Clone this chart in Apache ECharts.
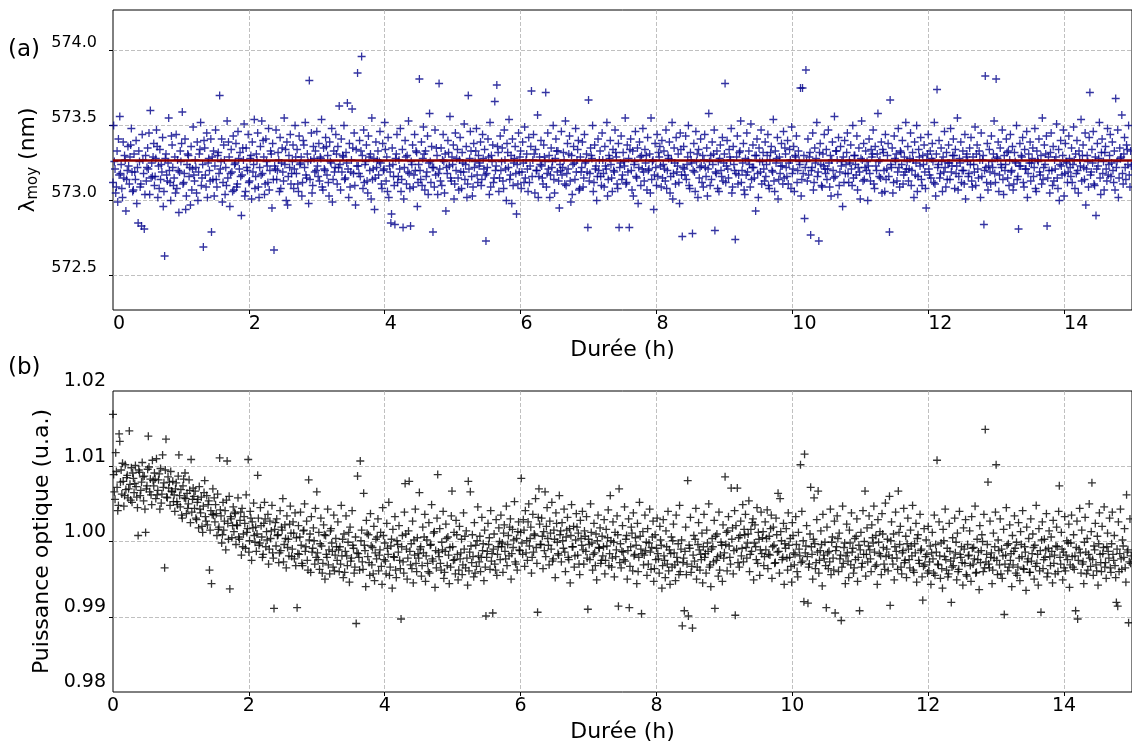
<!DOCTYPE html>
<html>
<head>
<meta charset="utf-8">
<script src="https://cdn.jsdelivr.net/npm/echarts@6/dist/echarts.min.js"></script>
<style>html,body{margin:0;padding:0;background:#fff}#chart{width:1132px;height:745px}</style>
</head>
<body>
<div id="chart"></div>
<script>
// ---- data ----
const sampleStepHours = 0.01; // acquisition interval (h)
const meanWavelength = 573.27;
const durationTicks = [0, 2, 4, 6, 8, 10, 12, 14];
const wavelengthTicks = [572.5, 573.0, 573.5, 574.0];
const powerTicks = [0.98, 0.99, 1.00, 1.01, 1.02];
const durationRange = [0, 15];
const wavelengthRange = [572.27, 574.27];
const powerRange = [0.98, 1.02];

const wavelengthValues = [
573.12,573.50,573.26,573.21,573.05,573.09,573.33,572.99,573.41,573.17,573.56,573.18,573.24,573.08,573.02,573.39,573.15,573.30,573.27,572.93,573.14,573.20,573.36,573.23,573.11,573.29,573.37,573.48,573.19,573.06,
573.07,573.31,573.19,573.14,573.40,572.98,573.22,572.85,573.33,573.26,573.09,573.11,572.83,573.44,573.27,573.18,572.81,573.04,573.30,573.13,573.22,573.35,573.21,573.45,573.04,573.60,573.15,573.25,573.16,573.29,
573.38,573.10,573.16,573.28,573.47,573.36,573.02,573.23,573.08,573.34,573.14,573.24,573.19,573.42,572.96,573.06,572.63,573.28,573.31,573.17,573.13,573.25,573.55,573.20,573.12,573.00,573.43,573.37,573.22,573.10,
573.15,573.29,573.05,573.44,573.08,573.27,573.20,572.92,573.19,573.33,573.26,573.38,573.59,573.11,573.12,573.18,573.41,572.94,573.03,573.24,573.31,573.30,573.16,573.22,572.97,573.36,573.07,573.21,573.49,573.17,
573.13,573.27,573.22,573.05,573.39,573.00,573.19,573.31,573.34,573.52,573.10,573.15,573.24,572.69,573.40,573.35,573.17,573.09,573.45,573.02,573.25,573.28,573.20,573.13,573.41,572.79,573.29,573.14,573.33,573.03,
573.23,573.47,573.14,573.09,573.30,573.32,573.18,573.70,573.21,573.26,573.41,572.99,573.12,573.37,573.27,573.04,573.22,573.10,573.53,573.15,573.39,573.29,572.96,573.18,573.34,573.19,573.06,573.43,573.07,573.24,
573.25,573.38,573.09,573.11,573.46,573.28,573.21,573.32,573.16,572.90,573.17,573.35,573.27,573.51,573.03,573.06,573.35,573.22,573.20,573.44,573.12,573.13,573.28,573.30,573.01,573.39,573.19,573.24,573.54,573.08,
573.16,573.31,573.27,573.45,573.09,573.02,573.22,573.36,573.17,573.53,573.18,573.40,573.29,573.04,573.11,573.41,573.26,573.23,573.12,573.48,573.07,573.20,573.33,573.31,572.95,573.38,573.14,572.67,573.23,573.21,
573.47,573.14,573.20,573.32,573.27,573.06,573.42,573.08,573.25,573.35,573.19,573.13,573.55,573.24,573.34,573.00,573.39,572.97,573.16,573.30,573.22,573.44,573.11,573.18,573.26,573.37,573.08,573.21,573.50,573.29,
573.18,573.34,573.11,573.06,573.43,573.24,573.25,573.29,573.03,573.12,573.40,573.37,573.22,573.52,573.17,573.15,573.31,573.26,572.98,573.80,573.14,573.27,573.45,573.05,573.10,573.36,573.28,573.19,573.33,573.20,
573.46,573.23,573.16,573.38,573.13,573.29,573.28,573.54,573.09,573.07,573.35,573.21,573.20,573.42,573.36,573.17,573.30,573.12,573.03,573.39,573.26,573.25,573.48,572.99,573.14,573.33,573.19,573.22,573.44,573.31,
573.11,573.36,573.22,573.63,573.24,573.07,573.41,573.19,573.30,573.29,573.50,573.14,573.15,573.32,573.25,573.65,573.21,573.02,573.38,573.09,573.19,573.27,573.61,573.35,573.18,573.45,573.10,572.97,573.34,573.23,
573.85,573.23,573.18,573.40,573.16,573.33,573.96,573.30,573.08,573.47,573.12,573.24,573.26,573.37,573.13,573.05,573.43,573.29,573.20,573.31,573.01,573.55,573.14,573.21,573.28,572.94,573.15,573.39,573.22,573.27,
573.33,573.17,573.26,573.46,573.25,573.11,573.08,573.38,573.20,573.21,573.52,573.34,573.13,573.29,573.06,573.42,573.02,573.23,573.19,572.85,572.91,573.35,573.24,573.16,573.10,572.84,573.28,573.31,573.44,573.12,
573.16,573.27,573.21,573.48,573.06,573.14,573.34,572.82,573.01,573.22,573.40,573.29,573.11,573.30,573.19,573.53,573.18,573.08,572.83,573.26,573.24,573.37,573.09,573.17,573.44,573.20,573.33,573.32,572.96,573.12,
573.24,573.81,573.20,573.14,573.39,573.10,573.28,573.49,573.31,573.07,573.33,573.16,573.19,573.43,573.04,573.25,573.58,573.26,573.12,573.36,573.22,572.79,573.22,573.09,573.47,573.17,573.35,573.30,573.04,573.18,
573.78,573.21,573.13,573.35,573.10,573.27,573.44,573.26,573.05,573.31,572.93,573.22,573.18,573.40,573.32,573.23,573.56,573.15,573.13,573.29,573.24,573.37,573.01,573.11,573.45,573.20,573.28,573.34,573.15,573.07,
573.27,573.42,573.19,573.08,573.32,573.25,573.19,573.51,573.14,573.24,573.36,573.02,573.11,573.70,573.21,573.28,573.46,573.33,573.16,573.03,573.09,573.38,573.22,573.26,573.33,573.48,573.17,573.12,573.30,573.23,
573.25,573.39,573.10,573.14,573.44,573.28,573.21,573.34,573.17,572.73,573.18,573.22,573.41,573.29,573.04,573.52,573.09,573.30,573.26,573.37,573.12,573.15,573.66,573.20,573.23,573.77,573.36,573.32,573.06,573.15,
573.43,573.20,573.26,573.35,573.13,573.08,573.47,573.27,573.21,573.00,573.38,573.32,573.22,573.54,573.14,573.17,573.30,572.98,573.41,573.10,573.25,573.28,573.36,573.18,572.91,573.24,573.11,573.45,573.19,573.29,
573.33,573.08,573.19,573.39,573.25,573.12,573.49,573.15,573.27,573.31,573.21,573.06,573.42,573.12,573.23,573.36,573.73,573.16,573.27,573.44,573.31,573.05,573.34,573.20,573.20,573.57,573.02,573.16,573.29,573.24,
573.40,573.23,573.15,573.11,573.37,573.29,573.26,573.72,573.09,573.18,573.45,573.21,573.30,573.02,573.17,573.35,573.22,573.26,573.50,573.14,573.05,573.28,573.41,573.33,573.19,573.33,573.13,572.95,573.24,573.20,
573.46,573.17,573.22,573.32,573.27,573.11,573.53,573.10,573.18,573.38,573.21,573.31,573.43,573.13,572.99,573.30,573.04,573.24,573.36,573.25,573.14,573.48,573.19,573.27,573.34,573.40,573.07,573.08,573.29,573.19,
573.22,573.39,573.09,573.15,573.44,573.25,573.26,573.31,573.19,572.82,573.67,573.13,573.18,573.35,573.30,573.28,573.50,573.06,573.12,573.37,573.21,573.23,573.00,573.16,573.41,573.20,573.27,573.33,573.16,573.10,
573.45,573.27,573.18,573.09,573.36,573.23,573.21,573.52,573.03,573.14,573.30,573.28,573.40,573.24,573.15,573.06,573.34,573.20,573.19,573.47,573.32,573.29,573.11,573.08,573.38,572.82,573.22,573.25,573.43,573.14,
573.17,573.32,573.26,573.23,573.55,573.11,573.12,573.37,573.19,573.28,572.82,573.34,573.41,573.20,573.07,573.33,573.03,573.24,573.26,573.46,573.16,573.15,573.35,572.98,573.22,573.39,573.29,573.10,573.30,573.21,
573.48,573.19,573.13,573.34,573.25,573.30,573.07,573.42,573.20,573.21,573.31,573.05,573.55,573.14,573.26,573.27,572.94,573.17,573.38,573.22,573.10,573.44,573.16,573.32,573.29,573.36,573.23,573.09,573.40,573.15,
573.24,573.33,573.21,573.13,573.47,573.08,573.20,573.30,573.28,573.39,573.05,573.16,573.27,573.52,573.01,573.18,573.35,573.25,573.11,573.42,573.19,573.23,573.31,573.12,572.98,573.45,573.34,573.17,572.76,573.22,
573.36,573.21,573.17,573.43,573.14,573.24,573.29,573.50,573.10,573.08,573.32,573.27,573.25,572.78,573.20,573.38,573.19,573.06,573.46,573.26,573.31,573.02,573.34,573.15,573.22,573.41,573.23,573.12,573.30,573.09,
573.27,573.44,573.22,573.16,573.35,573.03,573.21,573.58,573.26,573.10,573.30,573.14,573.39,573.24,573.31,573.47,572.80,573.19,573.18,573.33,573.08,573.26,573.06,573.28,573.37,573.20,573.16,573.42,573.13,573.25,
573.31,573.78,573.12,573.23,573.40,573.21,573.15,573.34,573.29,573.27,573.48,573.05,573.09,573.36,573.24,573.20,572.74,573.18,573.29,573.43,573.11,573.17,573.32,573.33,573.53,573.12,573.20,573.25,573.38,573.07,
573.04,573.28,573.17,573.45,573.19,573.27,573.33,573.24,573.09,573.51,573.14,573.22,573.37,573.22,573.15,573.30,572.93,573.30,573.41,573.18,573.02,573.35,573.26,573.19,573.47,573.11,573.26,573.32,573.21,573.13,
573.39,573.16,573.24,573.30,573.44,573.10,573.08,573.27,573.32,573.36,573.20,573.19,573.54,573.13,573.06,573.33,573.25,573.28,573.42,573.01,573.14,573.29,573.18,573.23,573.38,573.23,573.11,573.46,573.15,573.35,
573.31,573.22,573.16,573.40,573.11,573.25,573.34,573.27,573.08,573.49,573.18,573.21,573.36,573.06,573.30,573.29,573.43,573.12,573.20,573.33,573.26,573.24,573.75,573.03,573.14,573.75,573.18,573.30,572.88,573.22,
573.87,573.26,573.13,573.41,573.17,573.29,573.32,572.77,573.20,573.22,573.45,573.07,573.12,573.35,573.25,573.28,573.52,573.16,573.19,572.73,573.32,573.38,573.24,573.10,573.09,573.31,573.23,573.44,573.21,573.18,
573.34,573.14,573.21,573.47,573.25,573.09,573.30,573.03,573.27,573.39,573.20,573.15,573.56,573.16,573.33,573.33,573.27,573.04,573.42,573.10,573.19,573.36,573.23,573.26,572.96,573.29,573.12,573.40,573.18,573.24,
573.32,573.45,573.18,573.12,573.27,573.25,573.37,573.21,573.10,573.50,573.15,573.30,573.30,573.24,573.17,573.43,573.07,573.22,573.35,573.19,573.01,573.28,573.53,573.27,573.13,573.38,573.14,573.22,573.33,573.20,
573.26,573.00,573.23,573.41,573.18,573.13,573.34,573.29,573.31,573.47,573.11,573.08,573.36,573.23,573.20,573.31,573.58,573.26,573.16,573.27,573.15,573.39,573.05,573.34,573.32,573.20,573.06,573.44,573.14,573.21,
573.30,573.38,573.16,572.79,573.67,573.24,573.22,573.35,573.05,573.12,573.43,573.28,573.26,573.31,573.13,573.19,573.48,573.22,573.09,573.33,573.32,573.24,573.40,573.11,573.17,573.29,573.19,573.52,573.21,573.26,
573.36,573.13,573.21,573.28,573.45,573.10,573.20,573.32,573.27,573.02,573.39,573.17,573.25,573.50,573.06,573.16,573.34,573.29,573.23,573.42,573.14,573.10,573.30,573.24,573.37,573.19,573.08,572.95,573.27,573.31,
573.44,573.21,573.17,573.33,573.15,573.28,573.38,573.26,573.12,573.52,573.11,573.03,573.31,573.74,573.22,573.24,573.40,573.15,573.18,573.35,573.26,573.06,573.29,573.19,573.46,573.22,573.09,573.32,573.14,573.25,
573.37,573.25,573.14,573.48,573.19,573.23,573.30,573.41,573.30,573.08,573.34,573.18,573.23,573.55,573.07,573.16,573.28,573.25,573.39,573.12,573.20,573.33,573.20,573.11,573.44,573.01,573.29,573.31,573.26,573.16,
573.18,573.35,573.24,573.42,573.13,573.09,573.29,573.24,573.19,573.49,573.10,573.31,573.37,573.21,573.15,573.33,573.27,573.02,573.45,573.16,573.27,573.30,572.84,573.20,573.83,573.22,573.12,573.38,573.07,573.23,
573.34,573.19,573.11,573.43,573.26,573.22,573.31,573.53,573.18,573.12,573.81,573.29,573.28,573.39,573.06,573.17,573.35,573.24,573.22,573.47,573.14,573.04,573.30,573.20,573.24,573.41,573.32,573.15,573.33,573.10,
573.27,573.44,573.19,573.20,573.36,573.07,573.11,573.32,573.26,573.25,573.50,573.14,573.16,572.81,573.23,573.38,573.23,573.30,573.29,573.42,573.12,573.09,573.34,573.21,573.21,573.46,573.02,573.18,573.31,573.25,
573.39,573.13,573.25,573.28,573.35,573.16,573.22,573.48,573.08,573.06,573.33,573.27,573.26,573.41,573.19,573.17,573.30,573.11,573.55,573.14,573.22,573.37,573.24,573.31,573.43,572.83,573.15,573.29,573.20,573.05,
573.32,573.45,573.20,573.10,573.36,573.13,573.27,573.21,573.29,573.51,573.15,573.08,573.34,573.00,573.24,573.40,573.23,573.17,573.30,573.47,573.03,573.18,573.38,573.26,573.25,573.12,573.19,573.43,573.28,573.22,
573.16,573.35,573.12,573.24,573.49,573.27,573.08,573.31,573.18,573.40,573.20,573.05,573.33,573.27,573.23,573.54,573.13,573.30,573.37,573.22,573.14,573.45,572.97,573.21,573.30,573.26,573.09,573.42,573.72,573.17,
573.19,573.34,573.25,573.46,573.11,573.10,573.29,572.90,573.21,573.38,573.23,573.28,573.52,573.15,573.04,573.32,573.41,573.18,573.26,573.07,573.32,573.36,573.21,573.13,573.48,573.17,573.24,573.30,573.44,573.16,
573.25,573.39,573.20,573.12,573.33,573.07,573.68,573.22,573.26,573.47,573.02,573.15,573.35,573.28,573.29,573.57,573.18,573.11,573.31,573.42,573.22,573.14,573.37,573.34,573.24,573.50,573.17,573.09,573.33,573.23
];

const powerValues = [
1.0169,1.0089,1.0066,1.0056,1.0118,1.0093,1.0072,1.0041,1.0048,1.0143,1.0133,1.0079,1.0095,1.0063,1.0104,1.0080,1.0047,1.0061,1.0102,1.0069,1.0085,1.0088,1.0058,1.0070,1.0147,1.0076,1.0055,1.0098,1.0052,1.0091,
1.0084,1.0065,1.0077,1.0101,1.0073,1.0059,1.0045,1.0008,1.0095,1.0092,1.0061,1.0068,1.0079,1.0105,1.0086,1.0054,1.0087,1.0043,1.0012,1.0070,1.0074,1.0096,1.0140,1.0099,1.0066,1.0083,1.0062,1.0049,1.0108,1.0081,
1.0074,1.0091,1.0083,1.0057,1.0110,1.0062,1.0068,1.0082,1.0090,1.0043,1.0097,1.0051,1.0063,1.0115,1.0072,1.0078,0.9965,1.0095,1.0136,1.0059,1.0058,1.0086,1.0071,1.0079,1.0048,1.0093,1.0067,1.0066,1.0080,1.0053,
1.0062,1.0040,1.0070,1.0078,1.0053,1.0049,1.0087,1.0115,1.0061,1.0046,1.0069,1.0035,1.0031,1.0074,1.0083,1.0058,1.0091,1.0057,1.0037,1.0064,1.0044,1.0050,1.0082,1.0068,1.0025,1.0109,1.0039,1.0056,1.0071,1.0060,
1.0044,1.0067,1.0031,1.0029,1.0052,1.0056,1.0018,1.0073,1.0043,1.0038,1.0059,1.0020,1.0012,1.0047,1.0065,1.0081,1.0033,1.0027,1.0061,1.0022,1.0049,1.0054,0.9962,1.0015,1.0041,0.9944,1.0036,1.0070,1.0035,1.0058,
1.0026,1.0049,1.0037,1.0008,1.0063,1.0016,1.0019,1.0111,1.0042,1.0034,0.9998,1.0009,1.0052,1.0015,1.0027,1.0041,0.9989,1.0055,1.0107,1.0024,1.0003,1.0060,0.9937,1.0033,1.0030,1.0005,1.0021,1.0046,1.0013,1.0039,
1.0037,0.9996,1.0022,1.0021,1.0058,1.0006,1.0003,1.0028,1.0039,0.9982,1.0044,0.9993,1.0010,1.0033,1.0024,0.9991,1.0062,1.0012,1.0017,1.0109,0.9986,1.0001,1.0040,1.0031,0.9975,1.0026,1.0018,1.0051,1.0008,0.9999,
1.0019,0.9987,1.0010,1.0088,1.0031,0.9995,0.9998,1.0045,1.0021,1.0006,0.9979,0.9983,1.0024,1.0052,1.0030,0.9993,1.0013,1.0002,1.0036,0.9970,0.9990,1.0027,1.0004,1.0014,1.0048,0.9985,0.9978,0.9911,1.0016,1.0025,
0.9994,1.0030,1.0008,1.0009,0.9972,0.9985,1.0041,0.9988,1.0019,1.0015,1.0057,0.9973,0.9996,1.0022,1.0004,0.9965,1.0034,0.9992,1.0003,0.9981,1.0023,1.0047,1.0011,0.9980,0.9990,1.0026,1.0011,0.9977,1.0038,0.9968,
1.0005,0.9912,0.9984,1.0021,0.9983,1.0006,1.0039,0.9995,0.9971,0.9968,1.0014,1.0015,1.0050,0.9987,0.9993,1.0027,0.9975,0.9962,1.0082,1.0002,1.0010,0.9959,1.0033,0.9986,0.9991,1.0018,1.0001,0.9970,1.0044,0.9979,
1.0066,0.9985,0.9976,1.0012,0.9963,0.9997,1.0031,0.9994,0.9958,0.9971,1.0022,1.0009,0.9950,1.0008,0.9983,0.9979,1.0043,0.9969,0.9989,0.9957,1.0014,1.0017,0.9998,0.9987,0.9966,1.0035,0.9961,0.9982,1.0004,0.9993,
0.9975,1.0026,0.9989,0.9960,0.9993,0.9970,1.0048,0.9981,1.0003,0.9952,1.0010,0.9959,0.9987,1.0034,0.9981,0.9968,0.9999,1.0012,0.9946,1.0019,0.9974,0.9978,1.0041,0.9995,0.9991,0.9958,0.9966,1.0006,0.9891,0.9985,
1.0087,0.9984,0.9979,0.9962,1.0107,1.0001,1.0015,0.9973,0.9963,1.0064,0.9995,0.9988,0.9940,1.0028,1.0011,0.9980,1.0009,0.9972,0.9955,1.0037,0.9994,0.9969,0.9992,0.9957,1.0020,0.9948,0.9985,1.0003,0.9977,1.0006,
1.0030,0.9961,0.9982,0.9989,1.0012,0.9967,0.9943,1.0045,1.0008,0.9976,0.9998,0.9974,0.9957,1.0024,0.9991,0.9983,1.0052,0.9955,0.9966,0.9994,1.0003,0.9938,1.0016,0.9980,0.9979,1.0033,0.9962,0.9952,1.0001,0.9996,
0.9986,1.0021,0.9975,0.9964,0.9897,0.9993,1.0008,0.9973,0.9958,1.0039,1.0077,1.0010,0.9990,0.9950,0.9978,1.0014,1.0080,0.9987,0.9969,0.9997,0.9964,1.0027,0.9945,1.0002,0.9982,1.0043,0.9971,0.9960,1.0005,0.9984,
0.9978,1.0065,0.9990,0.9993,0.9954,0.9968,1.0019,0.9985,1.0006,1.0036,0.9947,0.9981,1.0002,0.9971,0.9960,1.0025,0.9958,0.9995,0.9996,1.0049,0.9977,0.9974,1.0011,1.0013,0.9939,0.9988,0.9965,1.0031,1.0089,0.9986,
0.9980,1.0017,0.9971,0.9962,0.9999,0.9989,1.0040,0.9951,0.9959,0.9987,1.0023,1.0004,0.9968,1.0006,0.9982,0.9944,0.9992,0.9966,1.0034,1.0067,0.9993,0.9975,1.0012,0.9976,0.9957,1.0028,1.0009,0.9983,0.9949,0.9962,
1.0020,0.9977,0.9985,1.0003,0.9956,0.9969,1.0038,0.9990,1.0007,0.9965,1.0014,0.9978,0.9942,1.0080,0.9961,0.9986,1.0066,0.9994,0.9972,1.0009,0.9980,0.9953,1.0025,0.9958,0.9995,0.9967,1.0001,1.0046,0.9981,0.9973,
1.0007,0.9960,0.9979,1.0032,0.9988,0.9997,0.9948,1.0015,0.9966,0.9901,0.9979,0.9987,1.0024,0.9996,1.0005,0.9963,1.0041,0.9974,0.9984,0.9905,0.9990,1.0010,0.9970,0.9962,1.0029,0.9955,0.9983,0.9993,1.0018,1.0000,
0.9976,1.0035,0.9993,0.9998,0.9959,1.0011,1.0022,0.9987,0.9977,1.0047,0.9968,0.9996,1.0008,0.9981,1.0019,1.0030,0.9950,0.9984,1.0016,0.9992,1.0002,1.0053,0.9973,0.9970,1.0004,0.9962,1.0013,1.0026,0.9989,0.9988,
1.0012,1.0084,0.9998,0.9983,1.0029,1.0015,0.9967,1.0041,0.9985,1.0001,0.9975,1.0026,1.0050,0.9994,1.0004,1.0019,0.9958,0.9979,1.0036,0.9986,1.0010,1.0008,1.0057,0.9992,0.9971,0.9906,1.0032,1.0070,1.0023,0.9996,
0.9996,1.0031,1.0007,0.9964,1.0013,0.9988,1.0066,0.9980,1.0020,1.0045,1.0004,0.9995,0.9969,1.0027,1.0011,0.9990,1.0052,0.9974,0.9977,1.0015,1.0003,0.9952,1.0038,1.0024,0.9999,0.9984,0.9982,1.0061,1.0009,1.0014,
0.9973,1.0025,1.0001,0.9991,1.0043,0.9986,0.9960,1.0006,1.0015,1.0032,0.9979,0.9976,1.0017,0.9945,1.0008,1.0049,0.9993,0.9993,1.0020,0.9966,0.9981,1.0002,1.0037,1.0019,0.9982,1.0011,0.9970,0.9956,1.0028,1.0004,
0.9995,1.0040,0.9989,0.9970,1.0014,1.0007,0.9987,1.0033,0.9978,0.9910,1.0003,0.9996,0.9976,1.0050,1.0012,0.9998,0.9962,0.9983,1.0024,0.9985,0.9968,1.0010,0.9949,1.0001,1.0035,0.9992,0.9991,1.0018,0.9971,0.9975,
1.0007,0.9981,0.9993,1.0029,0.9957,0.9975,1.0016,0.9994,1.0005,1.0042,0.9968,0.9984,1.0061,1.0001,0.9966,0.9978,1.0026,0.9999,0.9953,1.0012,0.9980,0.9989,1.0034,1.0009,0.9914,1.0070,0.9972,0.9997,0.9965,0.9987,
1.0021,0.9986,0.9976,1.0046,0.9974,1.0003,1.0008,0.9950,0.9988,1.0030,0.9912,0.9967,0.9993,1.0019,1.0011,0.9961,1.0038,0.9981,0.9983,1.0005,0.9995,0.9944,1.0024,0.9960,0.9979,1.0052,1.0007,0.9990,0.9904,0.9984,
1.0013,0.9969,0.9982,1.0035,0.9988,0.9999,0.9955,1.0017,0.9970,0.9998,1.0043,0.9986,0.9963,0.9992,1.0006,1.0027,0.9947,0.9964,1.0009,0.9976,0.9991,1.0031,0.9984,0.9977,0.9958,1.0020,1.0002,0.9995,0.9938,0.9968,
1.0029,0.9981,0.9975,0.9952,1.0014,0.9993,0.9970,1.0040,0.9961,0.9989,0.9943,0.9984,1.0006,0.9966,1.0001,1.0023,0.9985,0.9969,0.9948,1.0035,0.9979,0.9973,0.9997,0.9956,1.0048,0.9960,0.9990,1.0002,0.9888,0.9972,
0.9978,0.9908,0.9987,1.0019,0.9956,0.9970,1.0081,0.9901,0.9995,0.9991,1.0032,0.9959,0.9967,0.9885,0.9982,1.0008,0.9974,1.0003,1.0044,0.9950,0.9966,0.9996,1.0025,0.9989,0.9962,0.9983,0.9976,1.0011,0.9945,0.9993,
1.0036,0.9979,0.9984,0.9958,1.0015,0.9998,0.9987,1.0050,0.9966,0.9969,0.9940,0.9990,1.0004,0.9993,0.9973,1.0028,0.9911,1.0007,0.9975,1.0010,0.9980,0.9954,1.0039,0.9962,0.9982,0.9999,0.9995,0.9947,1.0022,0.9978,
0.9985,1.0086,0.9996,1.0012,0.9961,1.0014,1.0033,0.9994,0.9979,0.9970,1.0071,1.0003,1.0018,0.9957,0.9988,1.0041,0.9902,1.0021,0.9990,1.0071,0.9972,1.0005,0.9966,1.0008,1.0027,0.9981,0.9991,1.0049,0.9973,1.0016,
1.0009,1.0036,0.9992,0.9978,0.9998,1.0010,1.0054,0.9960,0.9983,1.0016,0.9987,1.0025,1.0030,0.9949,0.9998,1.0022,0.9993,0.9976,1.0045,0.9971,1.0012,1.0003,0.9955,0.9989,1.0039,0.9984,1.0005,1.0013,0.9968,0.9980,
1.0026,0.9989,1.0004,1.0042,0.9964,0.9983,1.0007,0.9982,1.0017,1.0035,0.9951,0.9993,1.0019,0.9995,0.9971,0.9972,1.0031,1.0009,0.9986,1.0064,0.9987,0.9958,1.0057,1.0013,1.0001,0.9976,0.9979,1.0024,0.9943,0.9997,
0.9991,1.0017,0.9978,0.9962,1.0038,0.9995,0.9979,1.0004,0.9967,0.9946,1.0025,1.0008,0.9985,0.9969,0.9983,1.0033,0.9996,0.9960,0.9953,1.0012,0.9990,0.9981,1.0102,0.9972,1.0040,0.9974,1.0001,0.9920,1.0116,0.9985,
0.9994,1.0021,0.9980,0.9918,0.9966,0.9970,1.0010,1.0072,0.9993,0.9983,0.9950,1.0003,1.0058,0.9997,0.9964,0.9972,1.0029,0.9986,1.0067,0.9958,0.9975,0.9988,1.0014,0.9996,0.9941,1.0036,0.9982,0.9977,0.9999,0.9968,
0.9912,1.0019,0.9985,0.9964,0.9987,0.9973,1.0043,0.9956,0.9999,1.0006,0.9978,0.9962,1.0027,0.9905,0.9988,0.9993,1.0034,1.0004,0.9960,1.0011,0.9977,0.9982,0.9895,0.9966,1.0047,0.9971,0.9992,0.9998,0.9944,0.9981,
1.0023,0.9985,0.9974,0.9952,1.0015,0.9998,0.9969,1.0038,0.9986,0.9991,0.9958,0.9965,1.0004,0.9976,1.0007,1.0030,0.9947,0.9979,0.9995,0.9908,0.9989,1.0012,0.9966,0.9971,1.0041,0.9983,1.0000,1.0067,0.9954,0.9983,
1.0018,0.9973,0.9994,1.0034,0.9989,0.9977,0.9960,1.0022,1.0005,0.9998,1.0047,0.9986,0.9967,1.0008,0.9969,0.9943,1.0029,0.9999,0.9984,1.0013,0.9981,0.9956,1.0037,1.0010,0.9992,0.9970,0.9963,1.0051,0.9980,0.9990,
1.0003,0.9961,0.9982,1.0060,0.9915,1.0001,1.0026,0.9978,0.9970,1.0010,0.9949,0.9993,1.0039,0.9987,0.9978,0.9963,1.0067,1.0012,0.9996,1.0020,0.9966,0.9957,0.9985,0.9988,1.0044,0.9972,0.9975,1.0007,0.9952,0.9997,
1.0031,0.9990,0.9976,0.9965,1.0015,0.9994,0.9981,1.0048,0.9962,0.9959,0.9997,0.9985,1.0024,0.9946,1.0004,1.0009,0.9975,0.9971,1.0036,0.9988,0.9990,0.9953,0.9922,0.9967,1.0017,0.9969,0.9980,1.0002,0.9983,0.9958,
1.0020,0.9961,0.9973,0.9994,0.9943,0.9985,1.0012,0.9977,0.9958,1.0035,0.9955,0.9996,0.9986,1.0108,0.9970,0.9969,1.0026,0.9981,0.9951,0.9998,0.9964,0.9938,1.0016,1.0001,0.9980,1.0043,0.9976,0.9962,0.9991,0.9953,
0.9957,1.0024,0.9987,0.9974,0.9919,0.9966,1.0005,0.9968,0.9978,1.0031,0.9985,0.9999,0.9949,1.0011,0.9960,0.9963,1.0040,0.9983,0.9979,0.9993,0.9972,0.9942,1.0018,0.9990,0.9971,1.0029,0.9956,0.9954,0.9996,0.9981,
0.9982,1.0014,0.9968,0.9947,1.0033,0.9991,0.9970,0.9992,0.9977,1.0047,0.9958,0.9959,1.0003,0.9976,0.9986,0.9936,1.0021,0.9972,0.9988,1.0009,1.0000,0.9960,1.0036,0.9965,1.0149,0.9973,0.9983,0.9996,1.0079,0.9970,
0.9965,1.0027,0.9979,0.9985,0.9944,0.9962,1.0011,0.9978,0.9993,1.0039,1.0102,0.9975,0.9956,1.0002,0.9988,0.9969,1.0030,0.9957,0.9990,0.9951,0.9981,1.0016,0.9903,0.9970,0.9982,1.0045,0.9995,0.9961,0.9997,0.9966,
1.0022,0.9975,0.9984,0.9940,1.0008,0.9969,0.9987,1.0034,0.9991,0.9958,0.9999,0.9955,0.9966,1.0025,0.9978,0.9948,1.0013,0.9996,0.9980,1.0041,0.9964,0.9963,0.9993,0.9986,0.9935,1.0019,0.9973,0.9977,1.0004,0.9959,
0.9959,1.0030,0.9974,0.9984,1.0010,0.9992,0.9950,0.9995,0.9967,1.0048,0.9971,0.9983,0.9942,1.0017,0.9961,0.9988,0.9906,1.0002,1.0026,0.9964,0.9976,1.0003,0.9979,0.9989,1.0037,0.9953,0.9958,0.9991,1.0014,0.9980,
0.9968,1.0006,0.9987,0.9945,1.0028,0.9971,0.9982,0.9957,0.9994,1.0019,0.9993,0.9960,1.0040,1.0074,0.9979,0.9970,1.0012,0.9990,0.9949,0.9986,0.9965,1.0033,0.9961,0.9982,1.0001,0.9976,0.9998,1.0023,0.9939,0.9969,
0.9998,1.0035,0.9980,0.9966,1.0009,0.9963,0.9981,0.9908,0.9992,1.0027,0.9897,0.9975,0.9990,1.0044,0.9985,0.9958,1.0015,0.9970,0.9973,0.9944,0.9999,1.0032,0.9986,0.9957,1.0004,0.9962,0.9983,1.0050,0.9978,0.9967,
1.0013,1.0078,0.9976,0.9955,0.9994,0.9989,1.0024,0.9969,0.9961,1.0007,0.9942,0.9997,1.0038,0.9983,0.9972,0.9960,1.0020,0.9984,0.9992,1.0046,0.9966,0.9972,0.9951,0.9993,1.0011,0.9987,0.9978,1.0031,0.9965,0.9959,
0.9997,1.0039,0.9983,0.9975,1.0008,0.9968,0.9952,0.9919,0.9990,0.9914,1.0026,0.9960,0.9984,1.0043,0.9977,0.9963,1.0002,0.9994,0.9979,1.0017,0.9965,0.9946,1.0062,0.9986,0.9989,0.9892,0.9973,1.0030,0.9971,0.9981
];

// ---- chart ----
const fontFamily = 'DejaVu Sans';
const plusSymbol = 'path://M0,5L10,5M5,0L5,10';
const wavelengthPoints = wavelengthValues.map((v, i) => [i * sampleStepHours, v]);
const powerPoints = powerValues.map((v, i) => [i * sampleStepHours, v]);

function xAxisFor(gridIndex, labelAlign) {
  return {
    type: 'value', gridIndex: gridIndex,
    min: durationRange[0], max: durationRange[1],
    name: 'Durée (h)', nameLocation: 'middle', nameGap: 29,
    nameTextStyle: { fontFamily, fontSize: 22, color: '#000' },
    axisLine: { show: false },
    axisTick: { show: true, length: 4, customValues: durationTicks.filter(v => v > durationRange[0]), lineStyle: { color: '#000', width: 1 } },
    axisLabel: { customValues: durationTicks, fontFamily, fontSize: 19, color: '#000', margin: 5, align: labelAlign, formatter: v => String(v) },
    splitLine: { show: true, lineStyle: { color: '#b0b0b0', width: 0.8, type: [4, 2] } }
  };
}

const option = {
  animation: false,
  backgroundColor: '#fff',
  textStyle: { fontFamily },
  grid: [
    { left: 113, top: 10, width: 1019, height: 300, show: true, borderColor: '#000', borderWidth: 1, backgroundColor: 'transparent' },
    { left: 113, top: 391, width: 1019, height: 301, show: true, borderColor: '#000', borderWidth: 1, backgroundColor: 'transparent' }
  ],
  xAxis: [ xAxisFor(0, 'left'), xAxisFor(1, 'center') ],
  yAxis: [
    {
      type: 'value', gridIndex: 0,
      min: wavelengthRange[0], max: wavelengthRange[1],
      name: '{l|λ}{s|moy}{l| (nm)}', nameLocation: 'middle', nameGap: 61,
      nameTextStyle: { fontFamily, fontSize: 22, color: '#000',
        rich: { l: { fontFamily, fontSize: 22, color: '#000', lineHeight: 26 },
                s: { fontFamily, fontSize: 15, color: '#000', lineHeight: 15, padding: [10, 0, 0, 0] } } },
      axisLine: { show: false },
      axisTick: { show: true, length: 4, customValues: wavelengthTicks, lineStyle: { color: '#000', width: 1 } },
      axisLabel: { customValues: wavelengthTicks, fontFamily, fontSize: 16, color: '#000', margin: 16, verticalAlign: 'bottom', formatter: v => v.toFixed(1) },
      splitLine: { show: true, lineStyle: { color: '#b0b0b0', width: 0.8, type: [4, 2] } }
    },
    {
      type: 'value', gridIndex: 1,
      min: powerRange[0], max: powerRange[1],
      name: 'Puissance optique (u.a.)', nameLocation: 'middle', nameGap: 53,
      nameTextStyle: { fontFamily, fontSize: 22, color: '#000' },
      axisLine: { show: false },
      axisTick: { show: true, length: 4, customValues: powerTicks.filter(v => v > powerRange[0] + 1e-9 && v < powerRange[1] - 1e-9), lineStyle: { color: '#000', width: 1 } },
      axisLabel: { customValues: powerTicks, fontFamily, fontSize: 19, color: '#000', margin: 7, verticalAlign: 'bottom', formatter: v => v.toFixed(2) },
      splitLine: { show: true, lineStyle: { color: '#b0b0b0', width: 0.8, type: [4, 2] } }
    }
  ],
  graphic: [
    { type: 'text', left: 8, top: 39, style: { text: '(a)', fontFamily, fontSize: 23, fill: '#000' } },
    { type: 'text', left: 8, top: 357, style: { text: '(b)', fontFamily, fontSize: 23, fill: '#000' } }
  ],
  series: [
    {
      type: 'scatter', xAxisIndex: 0, yAxisIndex: 0,
      data: wavelengthPoints, symbol: plusSymbol, symbolSize: 8,
      itemStyle: { color: 'transparent', borderColor: '#00008b', borderWidth: 1.3 },
      emphasis: { disabled: true }, silent: true, large: false, progressive: 0,
      markLine: {
        silent: true, symbol: 'none', animation: false,
        label: { show: false },
        lineStyle: { color: '#8b0000', width: 2.5, type: 'solid' },
        data: [ { yAxis: meanWavelength } ]
      }
    },
    {
      type: 'scatter', xAxisIndex: 1, yAxisIndex: 1,
      data: powerPoints, symbol: plusSymbol, symbolSize: 8,
      itemStyle: { color: 'transparent', borderColor: '#000', borderWidth: 1.3 },
      emphasis: { disabled: true }, silent: true, large: false, progressive: 0
    }
  ]
};

const chart = echarts.init(document.getElementById('chart'), null, { renderer: 'canvas' });
chart.setOption(option);
</script>
</body>
</html>
